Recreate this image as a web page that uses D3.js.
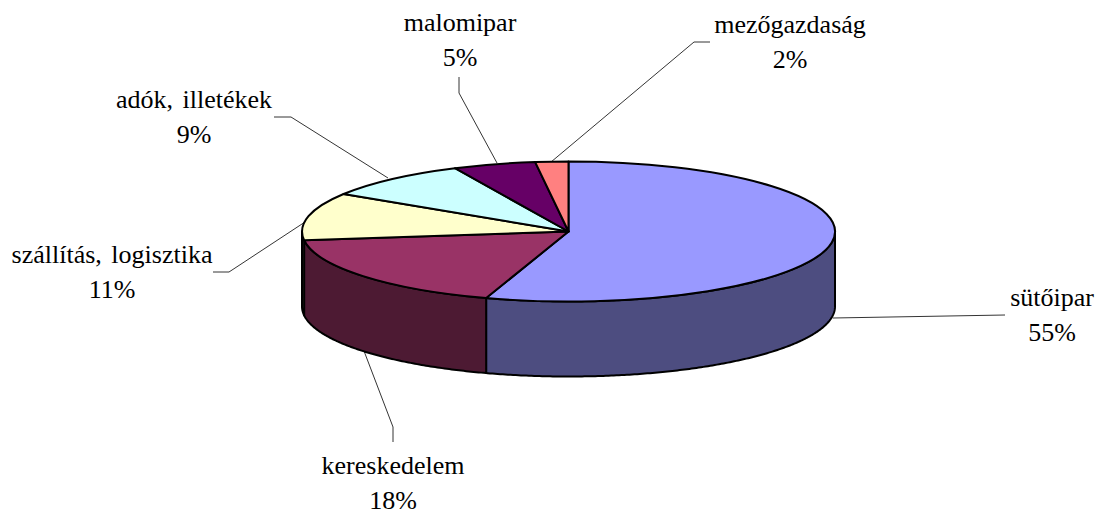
<!DOCTYPE html>
<html>
<head>
<meta charset="utf-8">
<script src="https://cdn.jsdelivr.net/npm/d3@7"></script>
<style>
  html, body { margin: 0; padding: 0; background: #fff; }
  text { font-family: "Liberation Serif", serif; font-size: 26px; fill: #000; word-spacing: 3px; }
</style>
</head>
<body>
<div id="chart"></div>
<script>
const categories = ['sütőipar', 'kereskedelem', 'szállítás, logisztika', 'adók, illetékek', 'malomipar', 'mezőgazdaság']
const shares = [55, 18, 11, 9, 5, 2]
const sliceColors = ['#9999ff', '#993366', '#ffffcc', '#ccffff', '#660066', '#ff8080']
const sideColors = ['#4d4d80', '#4d1a33', '#808066', '#668080', '#330033', '#804040']

// label anchors and leader lines, same order as categories
const labelAnchors = [[1052, 306], [393, 474], [112, 263], [194, 108], [460, 31], [790, 33]]
const leaders = [
  [[833, 318], [1005, 315]],
  [[364, 351], [393, 427], [393, 442]],
  [[305, 222], [229, 272], [213, 272]],
  [[388, 178], [291, 117], [274, 117]],
  [[497, 163], [459, 93], [459, 77]],
  [[551, 162], [694, 42], [710, 42]]
]

const width = 1098
const height = 510
const cx = 568.5
const cy = 231.5
const rx = 266.5
const ry = 70
const depth = 75
const lineGap = 34.5

const svg = d3
  .select('#chart')
  .append('svg')
  .attr('width', width)
  .attr('height', height)
  .style('display', 'block')

const colorScale = d3.scaleOrdinal().domain(categories).range(sliceColors)
const sideScale = d3.scaleOrdinal().domain(categories).range(sideColors)

const pie = d3
  .pie()
  .value(d => d.share)
  .sort(null)

const slices = pie(categories.map((name, i) => ({ name, share: shares[i] })))

const rimX = a => cx + rx * Math.sin(a)
const rimY = a => cy - ry * Math.cos(a)

// front wall: only the part of the rim between 3 and 9 o'clock can be seen
const side = d3.line()

function sidePath(d) {
  const start = Math.max(d.startAngle, Math.PI / 2)
  const end = Math.min(d.endAngle, (3 * Math.PI) / 2)
  if (start >= end) return null
  const angles = d3.range(start, end, 0.01).concat(end)
  const top = angles.map(a => [rimX(a), rimY(a)])
  const bottom = angles
    .slice()
    .reverse()
    .map(a => [rimX(a), rimY(a) + depth])
  return side(top.concat(bottom)) + 'Z'
}

svg
  .selectAll('.side')
  .data(slices.filter(d => sidePath(d)))
  .enter()
  .append('path')
  .attr('class', 'side')
  .attr('d', sidePath)
  .attr('fill', d => sideScale(d.data.name))
  .attr('stroke', '#000')
  .attr('stroke-width', 2)
  .attr('stroke-linejoin', 'round')

// unit circle squashed to an ellipse, the stroke stays even
const arc = d3
  .arc()
  .innerRadius(0)
  .outerRadius(1)

svg
  .selectAll('.slice')
  .data(slices)
  .enter()
  .append('path')
  .attr('class', 'slice')
  .attr('d', arc)
  .attr('transform', `translate(${cx},${cy}) scale(${rx},${ry})`)
  .attr('fill', d => colorScale(d.data.name))
  .attr('stroke', '#000')
  .attr('stroke-width', 2)
  .attr('stroke-linejoin', 'round')
  .attr('vector-effect', 'non-scaling-stroke')

svg
  .selectAll('.leader')
  .data(leaders)
  .enter()
  .append('path')
  .attr('class', 'leader')
  .attr('d', d3.line())
  .attr('fill', 'none')
  .attr('stroke', '#000')
  .attr('stroke-width', 0.8)

categories.forEach((name, i) => {
  const label = svg
    .append('text')
    .attr('text-anchor', 'middle')
    .attr('transform', `translate(${labelAnchors[i]})`)

  label
    .append('tspan')
    .attr('x', 0)
    .text(name)

  label
    .append('tspan')
    .attr('x', 0)
    .attr('dy', lineGap)
    .text(shares[i] + '%')
})
</script>
</body>
</html>
